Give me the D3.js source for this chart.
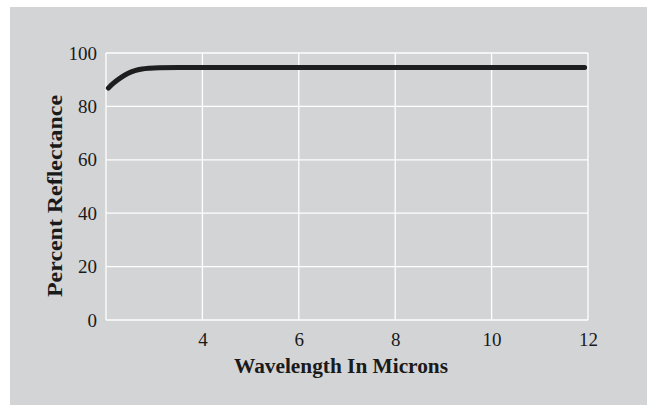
<!DOCTYPE html>
<html>
<head>
<meta charset="utf-8">
<script src="https://cdn.jsdelivr.net/npm/d3@7"></script>
<style>
  body { margin: 0; background: #fff; }
  svg text { font-family: "Liberation Serif", "DejaVu Serif", serif; fill: #1a1a1a; }
</style>
</head>
<body>
<div id="container"></div>
<script>
// data
const wavelength = [2.05, 2.15, 2.3, 2.45, 2.6, 2.75, 2.9, 3.1, 3.5, 4, 6, 8, 10, 11.93];
const reflectance = [86.9, 88.6, 90.7, 92.3, 93.4, 94.0, 94.3, 94.5, 94.6, 94.6, 94.6, 94.6, 94.6, 94.6];
const xTicks = [4, 6, 8, 10, 12];
const yTicks = [0, 20, 40, 60, 80, 100];

const W = 647, H = 405;
const margin = { top: 53, right: 59, bottom: 85, left: 106 };
const width = W - margin.left - margin.right;
const height = H - margin.top - margin.bottom;

const svg = d3.select("#container")
  .append("svg")
  .attr("width", W)
  .attr("height", H);

// grey panel
svg.append("rect")
  .attr("x", 10).attr("y", 7)
  .attr("width", W - 10).attr("height", H - 7)
  .attr("fill", "#d3d4d6");

const g = svg.append("g")
  .attr("transform", `translate(${margin.left},${margin.top})`);

const x = d3.scaleLinear().domain([2, 12]).range([0, width]);
const y = d3.scaleLinear().domain([0, 100]).range([height, 0]);

// gridlines
g.selectAll(".vgrid")
  .data(xTicks)
  .enter().append("line")
  .attr("x1", d => x(d)).attr("x2", d => x(d))
  .attr("y1", 0).attr("y2", height)
  .attr("stroke", "#fff").attr("stroke-width", 1.3);

g.selectAll(".hgrid")
  .data(yTicks)
  .enter().append("line")
  .attr("x1", 0).attr("x2", width)
  .attr("y1", d => y(d)).attr("y2", d => y(d))
  .attr("stroke", "#fff").attr("stroke-width", 1.3);

g.append("line")
  .attr("x1", 0).attr("x2", 0)
  .attr("y1", 0).attr("y2", height)
  .attr("stroke", "#fff").attr("stroke-width", 1.3);

// axes (labels only)
const xAxis = d3.axisBottom(x).tickValues(xTicks).tickSize(0).tickPadding(13);
const yAxis = d3.axisLeft(y).tickValues(yTicks).tickSize(0).tickPadding(9);

const gx = g.append("g").attr("transform", `translate(0,${height})`).call(xAxis);
const gy = g.append("g").call(yAxis);
[gx, gy].forEach(a => {
  a.select(".domain").remove();
  a.attr("font-size", 19).attr("font-family", "Liberation Serif, DejaVu Serif, serif");
  a.selectAll("text").attr("fill", "#1a1a1a");
});

// curve
const line = d3.line()
  .x((d, i) => x(wavelength[i]))
  .y(d => y(d))
  .curve(d3.curveMonotoneX);

g.append("path")
  .datum(reflectance)
  .attr("fill", "none")
  .attr("stroke", "#1e1e1e")
  .attr("stroke-width", 5)
  .attr("stroke-linecap", "round")
  .attr("d", line);

// axis titles
svg.append("text")
  .attr("x", 341).attr("y", 373)
  .attr("text-anchor", "middle")
  .attr("font-size", 20)
  .attr("font-weight", "bold")
  .attr("textLength", 214)
  .attr("lengthAdjust", "spacingAndGlyphs")
  .text("Wavelength In Microns");

svg.append("text")
  .attr("transform", "translate(62,196) rotate(-90)")
  .attr("text-anchor", "middle")
  .attr("font-size", 20)
  .attr("font-weight", "bold")
  .attr("textLength", 202)
  .attr("lengthAdjust", "spacingAndGlyphs")
  .text("Percent Reflectance");
</script>
</body>
</html>
